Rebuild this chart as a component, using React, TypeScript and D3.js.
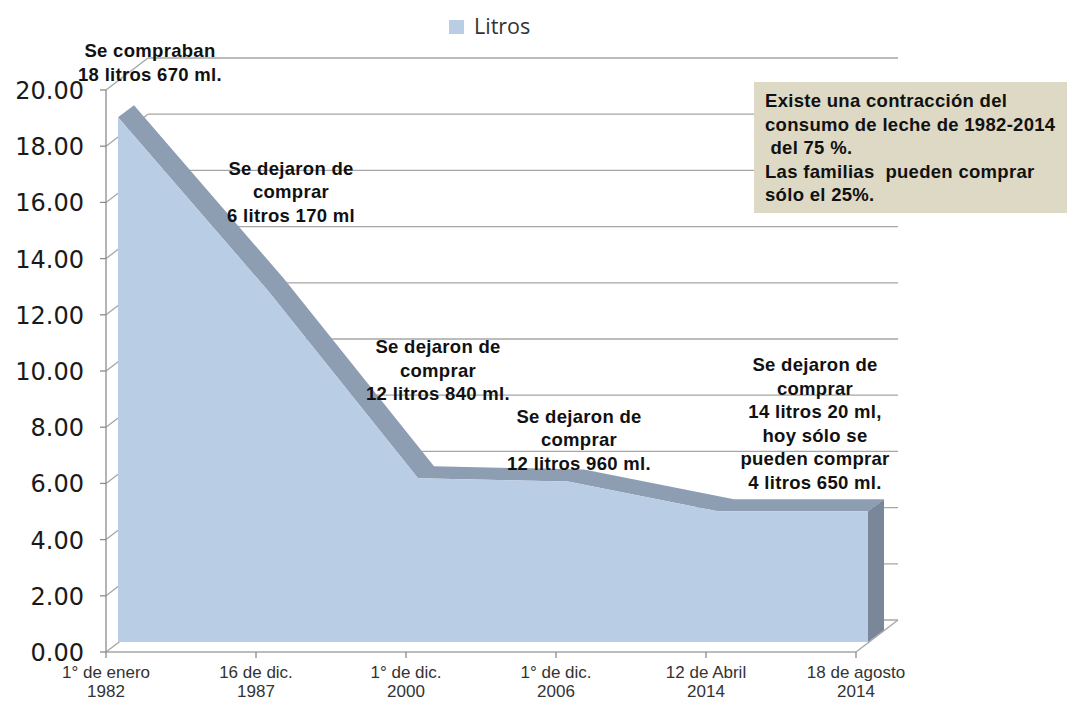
import * as d3 from "d3";

// categories (two-line labels) and values in litros
const catLine1 = ["1° de enero", "16 de dic.", "1° de dic.", "1° de dic.", "12 de Abril", "18 de agosto"];
const catLine2 = ["1982", "1987", "2000", "2006", "2014", "2014"];
const litros = [18.67, 12.5, 5.83, 5.71, 4.65, 4.65];
const yTicks = [0, 2, 4, 6, 8, 10, 12, 14, 16, 18, 20];

const notes = [
    ["Se compraban", "18 litros 670 ml."],
    ["Se dejaron de", "comprar", "6 litros 170 ml"],
    ["Se dejaron de", "comprar", "12 litros 840 ml."],
    ["Se dejaron de", "comprar", "12 litros 960 ml."],
    ["Se dejaron de", "comprar", "14 litros 20 ml,", "hoy sólo se", "pueden comprar", "4 litros 650 ml."],
];
const noteIndex = [0, 1, 2, 3, 5];

const boxLines = [
    "Existe una contracción del",
    "consumo de leche de 1982-2014",
    " del 75 %.",
    "Las familias  pueden comprar",
    "sólo el 25%.",
];

export default function App() {
    const W = 1067, H = 702;
    const x = d3.scalePoint<number>().domain(d3.range(litros.length)).range([106, 856]);
    const y = d3.scaleLinear().domain([0, 20]).range([652, 90]);

    // 3d offsets: area front face, area back face, back wall
    const fx = 12, fy = -10;
    const bx = 28, by = -22;
    const wx = 42, wy = -32;

    const gridColor = "#a6a6a6";
    const x0 = x(0)!, xN = x(litros.length - 1)!;

    const front = litros.map((v, i) => [x(i)! + fx, y(v) + fy] as [number, number]);
    const back = litros.map((v, i) => [x(i)! + bx, y(v) + by] as [number, number]);
    const pts = (a: [number, number][]) => a.map(p => p.join(",")).join(" ");

    const frontFace = [...front, [xN + fx, y(0) + fy], [x0 + fx, y(0) + fy]] as [number, number][];
    const ribbon = [...front, ...back.slice().reverse()];
    const last = litros.length - 1;
    const rightFace: [number, number][] = [
        front[last], back[last], [xN + bx, y(0) + by], [xN + fx, y(0) + fy],
    ];

    // label offsets relative to data point (front-face position)
    const noteDx = [32, 23, 20, 11, -53];
    const noteDy = [-60, -116, -125, -59, -140];
    const lineH = 23.5;

    const boldFont = "'Liberation Sans', Arial, sans-serif";

    return (
        <svg width={W} height={H} style={{ display: "block", position: "absolute", left: 0, top: 0 }}>
            <rect width={W} height={H} fill="#fff" />

            {/* legend */}
            <rect x={449} y={20} width={15} height={14} fill="#b9cde5" />
            <text x={474} y={34} fontFamily="'Open Sans', sans-serif" fontSize={21.5} fill="#333">Litros</text>

            {/* back wall gridlines */}
            {yTicks.map(t => (
                <line key={"g" + t} x1={x0 + wx} x2={xN + wx} y1={y(t) + wy} y2={y(t) + wy}
                    stroke={gridColor} strokeWidth={1.3} />
            ))}
            {/* side wall gridlines */}
            {yTicks.map(t => (
                <line key={"s" + t} x1={x0} x2={x0 + wx} y1={y(t)} y2={y(t) + wy}
                    stroke={gridColor} strokeWidth={1.3} />
            ))}
            {/* floor */}
            <line x1={x0} x2={xN} y1={y(0)} y2={y(0)} stroke={gridColor} strokeWidth={1.3} />
            <line x1={xN} x2={xN + wx} y1={y(0)} y2={y(0) + wy} stroke={gridColor} strokeWidth={1.3} />
            {/* value axis */}
            <line x1={x0} x2={x0} y1={y(0)} y2={y(20)} stroke="#8c8c8c" strokeWidth={1.3} />
            {yTicks.map(t => (
                <g key={"t" + t}>
                    <line x1={x0 - 6} x2={x0} y1={y(t)} y2={y(t)} stroke="#8c8c8c" strokeWidth={1.3} />
                    <text x={84} y={y(t) + 9} textAnchor="end" fontFamily="'DejaVu Sans', sans-serif"
                        fontSize={24} fill="#1a1a1a">{t.toFixed(2)}</text>
                </g>
            ))}
            {/* category axis */}
            {catLine1.map((c, i) => (
                <g key={"c" + i}>
                    <line x1={x(i)} x2={x(i)} y1={y(0)} y2={y(0) + 6} stroke="#8c8c8c" strokeWidth={1.3} />
                    <text x={x(i)} y={678} textAnchor="middle" fontFamily="'Liberation Sans', Arial, sans-serif"
                        fontSize={17} fill="#333">{c}</text>
                    <text x={x(i)} y={697} textAnchor="middle" fontFamily="'Liberation Sans', Arial, sans-serif"
                        fontSize={17} fill="#333">{catLine2[i]}</text>
                </g>
            ))}

            {/* 3d area */}
            <polygon points={pts(ribbon)} fill="#8d9eb3" />
            <polygon points={pts(rightFace)} fill="#7a8799" />
            <polygon points={pts(frontFace)} fill="#b9cde5" />

            {/* annotations */}
            {notes.map((lines, k) => {
                const i = noteIndex[k];
                const cx = x(i)! + fx + noteDx[k];
                const cy = y(litros[i]) + fy + noteDy[k];
                return (
                    <g key={"n" + k}>
                        {lines.map((l, j) => (
                            <text key={j} x={cx} y={cy + j * lineH} textAnchor="middle" fontFamily={boldFont}
                                fontWeight="bold" fontSize={18.5} letterSpacing={0.3} fill="#111">{l}</text>
                        ))}
                    </g>
                );
            })}

            {/* text box */}
            <rect x={754} y={82} width={320} height={131} fill="#ddd9c4" />
            {boxLines.map((l, j) => (
                <text key={"b" + j} x={765} y={107 + j * 23.5} fontFamily={boldFont} fontWeight="bold"
                    fontSize={18.5} letterSpacing={0.3} fill="#111" style={{ whiteSpace: "pre" }}>{l}</text>
            ))}
        </svg>
    );
}
